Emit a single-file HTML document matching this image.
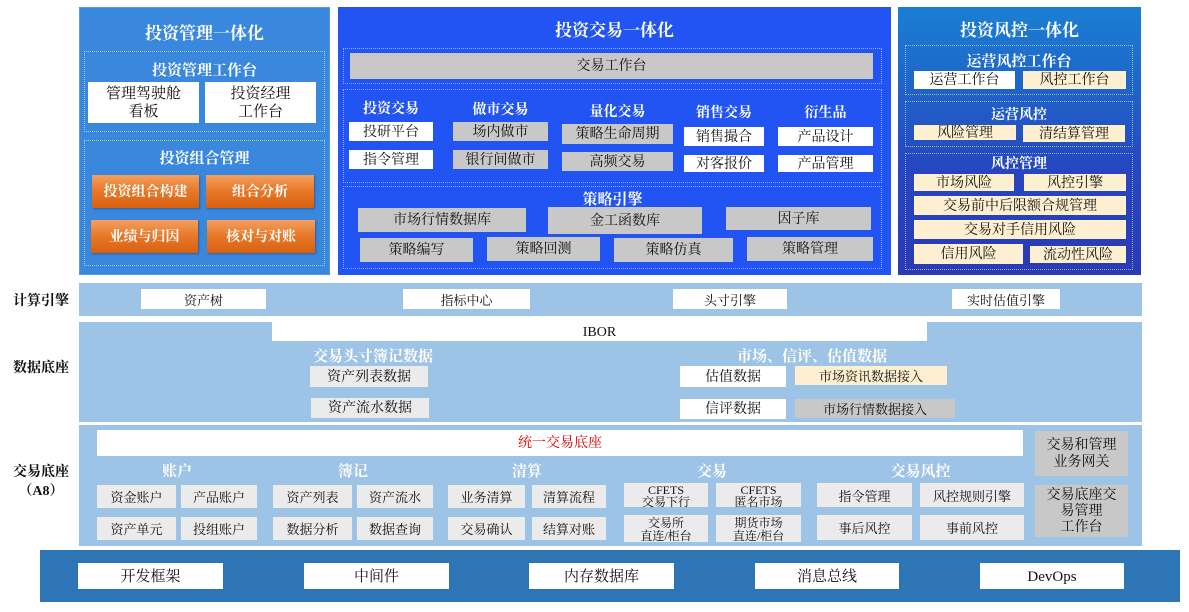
<!DOCTYPE html>
<html><head><meta charset="utf-8"><style>
body{margin:0;width:1189px;height:612px;background:#fff;position:relative;overflow:hidden;font-family:"Liberation Serif","Noto Serif CJK SC",serif;}
.b{position:absolute;display:flex;align-items:center;justify-content:center;text-align:center;box-sizing:border-box;line-height:1;padding-top:2px;font-size:14px;color:#111;white-space:nowrap}
.m{line-height:1.15}
.w{background:#fff}.g{background:#c8c8c8}.c{background:#fdefcf}.l{background:#ebebeb}
.d{position:absolute;border:1px dotted rgba(255,255,255,0.55);box-sizing:border-box}
.t{position:absolute;color:#fff;font-weight:bold;text-align:center;white-space:nowrap}
.o{background:linear-gradient(#f4a060,#e87a2a 45%,#d8600f);color:#fff;font-size:14px;font-weight:bold;box-shadow:1px 1px 2px rgba(0,0,0,.3)}
.k{position:absolute;font-weight:bold;font-size:14px;color:#111;text-align:center;white-space:nowrap}
.s{font-size:13px}
</style></head><body>
<!-- Panel 1 -->
<div class="b" style="left:79px;top:7px;width:251px;height:268px;background:#3a87de;border:1px solid #5a9ae0"></div>
<div class="t" style="left:79px;top:19px;width:251px;font-size:17px">投资管理一体化</div>
<div class="d" style="left:84px;top:51px;width:241px;height:81px"></div>
<div class="t" style="left:84px;top:59px;width:241px;font-size:15px">投资管理工作台</div>
<div class="b w m" style="left:88px;top:82px;width:111px;height:41px;font-size:15px">管理驾驶舱<br>看板</div>
<div class="b w m" style="left:205px;top:82px;width:111px;height:41px;font-size:15px">投资经理<br>工作台</div>
<div class="d" style="left:84px;top:140px;width:241px;height:126px"></div>
<div class="t" style="left:84px;top:147px;width:241px;font-size:15px">投资组合管理</div>
<div class="b o" style="left:92px;top:175px;width:107px;height:33px">投资组合构建</div>
<div class="b o" style="left:206px;top:175px;width:108px;height:33px">组合分析</div>
<div class="b o" style="left:91px;top:220px;width:107px;height:33px">业绩与归因</div>
<div class="b o" style="left:207px;top:220px;width:108px;height:33px">核对与对账</div>
<!-- Panel 2 -->
<div class="b" style="left:338px;top:7px;width:553px;height:268px;background:#2254f4"></div>
<div class="t" style="left:338px;top:16px;width:553px;font-size:17px">投资交易一体化</div>
<div class="d" style="left:343px;top:48px;width:539px;height:36px"></div>
<div class="b g" style="left:350px;top:53px;width:523px;height:26px">交易工作台</div>
<div class="d" style="left:343px;top:89px;width:539px;height:94px"></div>
<div class="t" style="left:349px;top:98px;width:84px;font-size:14px">投资交易</div>
<div class="t" style="left:453px;top:99px;width:95px;font-size:14px">做市交易</div>
<div class="t" style="left:562px;top:101px;width:111px;font-size:14px">量化交易</div>
<div class="t" style="left:684px;top:102px;width:80px;font-size:14px">销售交易</div>
<div class="t" style="left:778px;top:102px;width:95px;font-size:14px">衍生品</div>
<div class="b w" style="left:349px;top:122px;width:84px;height:19px">投研平台</div>
<div class="b w" style="left:349px;top:150px;width:84px;height:19px">指令管理</div>
<div class="b g" style="left:453px;top:122px;width:95px;height:19px">场内做市</div>
<div class="b g" style="left:453px;top:150px;width:95px;height:19px">银行间做市</div>
<div class="b g" style="left:562px;top:124px;width:111px;height:20px">策略生命周期</div>
<div class="b g" style="left:562px;top:152px;width:111px;height:19px">高频交易</div>
<div class="b w" style="left:684px;top:127px;width:80px;height:19px">销售撮合</div>
<div class="b w" style="left:684px;top:155px;width:80px;height:17px">对客报价</div>
<div class="b w" style="left:778px;top:127px;width:95px;height:19px">产品设计</div>
<div class="b w" style="left:778px;top:155px;width:95px;height:17px">产品管理</div>
<div class="d" style="left:343px;top:186px;width:539px;height:83px"></div>
<div class="t" style="left:343px;top:188px;width:539px;font-size:15px">策略引擎</div>
<div class="b g" style="left:358px;top:208px;width:168px;height:24px">市场行情数据库</div>
<div class="b g" style="left:548px;top:207px;width:154px;height:27px">金工函数库</div>
<div class="b g" style="left:726px;top:207px;width:145px;height:23px">因子库</div>
<div class="b g" style="left:360px;top:238px;width:113px;height:24px">策略编写</div>
<div class="b g" style="left:487px;top:237px;width:113px;height:24px">策略回测</div>
<div class="b g" style="left:614px;top:238px;width:119px;height:24px">策略仿真</div>
<div class="b g" style="left:747px;top:237px;width:126px;height:24px">策略管理</div>
<!-- Panel 3 -->
<div class="b" style="left:898px;top:7px;width:243px;height:268px;background:linear-gradient(#1a80d2,#2547c0 60%,#2a3ab5)"></div>
<div class="t" style="left:898px;top:16px;width:243px;font-size:17px">投资风控一体化</div>
<div class="d" style="left:905px;top:45px;width:228px;height:50px"></div>
<div class="t" style="left:905px;top:50px;width:228px;font-size:15px">运营风控工作台</div>
<div class="b w" style="left:914px;top:71px;width:101px;height:18px">运营工作台</div>
<div class="b c" style="left:1023px;top:71px;width:103px;height:18px">风控工作台</div>
<div class="d" style="left:905px;top:101px;width:228px;height:46px"></div>
<div class="t" style="left:905px;top:104px;width:228px;font-size:14px">运营风控</div>
<div class="b c" style="left:914px;top:125px;width:102px;height:15px">风险管理</div>
<div class="b c" style="left:1023px;top:125px;width:102px;height:17px">清结算管理</div>
<div class="d" style="left:905px;top:153px;width:228px;height:117px"></div>
<div class="t" style="left:905px;top:153px;width:228px;font-size:14px">风控管理</div>
<div class="b c" style="left:914px;top:174px;width:100px;height:17px">市场风险</div>
<div class="b c" style="left:1024px;top:174px;width:102px;height:17px">风控引擎</div>
<div class="b c" style="left:914px;top:196px;width:212px;height:19px">交易前中后限额合规管理</div>
<div class="b c" style="left:914px;top:220px;width:212px;height:19px">交易对手信用风险</div>
<div class="b c" style="left:914px;top:244px;width:109px;height:20px">信用风险</div>
<div class="b c" style="left:1030px;top:246px;width:96px;height:17px">流动性风险</div>
<!-- 计算引擎 -->
<div class="k" style="left:8px;top:290px;width:66px">计算引擎</div>
<div class="b" style="left:79px;top:283px;width:1063px;height:33px;background:#9dc3e6"></div>
<div class="b w s" style="left:141px;top:289px;width:125px;height:20px">资产树</div>
<div class="b w s" style="left:403px;top:289px;width:127px;height:20px">指标中心</div>
<div class="b w s" style="left:673px;top:289px;width:114px;height:20px">头寸引擎</div>
<div class="b w s" style="left:952px;top:289px;width:108px;height:20px">实时估值引擎</div>
<!-- 数据底座 -->
<div class="k" style="left:8px;top:357px;width:66px">数据底座</div>
<div class="b" style="left:79px;top:322px;width:1063px;height:100px;background:#9dc3e6"></div>
<div class="b w" style="left:272px;top:322px;width:655px;height:19px;font-size:14px">IBOR</div>
<div class="t" style="left:290px;top:345px;width:166px;font-size:15px">交易头寸簿记数据</div>
<div class="t" style="left:712px;top:345px;width:200px;font-size:15px">市场、信评、估值数据</div>
<div class="b l" style="left:310px;top:366px;width:118px;height:21px">资产列表数据</div>
<div class="b l" style="left:311px;top:398px;width:118px;height:20px">资产流水数据</div>
<div class="b w" style="left:680px;top:366px;width:106px;height:21px">估值数据</div>
<div class="b c s" style="left:795px;top:366px;width:152px;height:19px">市场资讯数据接入</div>
<div class="b w" style="left:680px;top:399px;width:106px;height:20px">信评数据</div>
<div class="b g s" style="left:795px;top:399px;width:160px;height:19px">市场行情数据接入</div>
<!-- 交易底座 -->
<div class="k" style="left:8px;top:463px;width:66px;line-height:19px">交易底座<br>（A8）</div>
<div class="b" style="left:79px;top:425px;width:1063px;height:121px;background:#9dc3e6"></div>
<div class="b w" style="left:97px;top:430px;width:926px;height:26px;color:#e00000">统一交易底座</div>
<div class="b g m" style="left:1035px;top:431px;width:93px;height:45px;font-size:14px">交易和管理<br>业务网关</div>
<div class="b g m" style="left:1035px;top:485px;width:93px;height:52px;font-size:14px">交易底座交<br>易管理<br>工作台</div>
<div class="t" style="left:97px;top:460px;width:160px;font-size:15px">账户</div>
<div class="t" style="left:273px;top:460px;width:160px;font-size:15px">簿记</div>
<div class="t" style="left:448px;top:460px;width:158px;font-size:15px">清算</div>
<div class="t" style="left:623px;top:460px;width:178px;font-size:15px">交易</div>
<div class="t" style="left:817px;top:460px;width:207px;font-size:15px">交易风控</div>
<div class="b l s" style="left:97px;top:485px;width:79px;height:23px">资金账户</div>
<div class="b l s" style="left:181px;top:485px;width:76px;height:23px">产品账户</div>
<div class="b l s" style="left:97px;top:517px;width:79px;height:23px">资产单元</div>
<div class="b l s" style="left:181px;top:517px;width:76px;height:23px">投组账户</div>
<div class="b l s" style="left:273px;top:485px;width:79px;height:23px">资产列表</div>
<div class="b l s" style="left:357px;top:485px;width:76px;height:23px">资产流水</div>
<div class="b l s" style="left:273px;top:517px;width:79px;height:23px">数据分析</div>
<div class="b l s" style="left:357px;top:517px;width:76px;height:23px">数据查询</div>
<div class="b l s" style="left:448px;top:485px;width:77px;height:23px">业务清算</div>
<div class="b l s" style="left:532px;top:485px;width:74px;height:23px">清算流程</div>
<div class="b l s" style="left:448px;top:517px;width:77px;height:23px">交易确认</div>
<div class="b l s" style="left:532px;top:517px;width:74px;height:23px">结算对账</div>
<div class="b l" style="left:624px;top:483px;width:84px;height:24px;font-size:12px;line-height:1">CFETS<br>交易下行</div>
<div class="b l" style="left:716px;top:483px;width:85px;height:24px;font-size:12px;line-height:1">CFETS<br>匿名市场</div>
<div class="b l" style="left:624px;top:515px;width:84px;height:27px;font-size:12px;line-height:1.05">交易所<br>直连/柜台</div>
<div class="b l" style="left:716px;top:515px;width:85px;height:27px;font-size:12px;line-height:1.05">期货市场<br>直连/柜台</div>
<div class="b l s" style="left:817px;top:483px;width:95px;height:24px">指令管理</div>
<div class="b l s" style="left:920px;top:483px;width:104px;height:24px">风控规则引擎</div>
<div class="b l s" style="left:817px;top:515px;width:95px;height:25px">事后风控</div>
<div class="b l s" style="left:920px;top:515px;width:104px;height:25px">事前风控</div>
<!-- bottom -->
<div class="b" style="left:40px;top:550px;width:1140px;height:52px;background:#2e75b6"></div>
<div class="b w" style="left:78px;top:563px;width:145px;height:26px;font-size:15px">开发框架</div>
<div class="b w" style="left:304px;top:563px;width:145px;height:26px;font-size:15px">中间件</div>
<div class="b w" style="left:529px;top:563px;width:145px;height:26px;font-size:15px">内存数据库</div>
<div class="b w" style="left:755px;top:563px;width:144px;height:26px;font-size:15px">消息总线</div>
<div class="b w" style="left:980px;top:563px;width:144px;height:26px;font-size:15px">DevOps</div>
</body></html>
